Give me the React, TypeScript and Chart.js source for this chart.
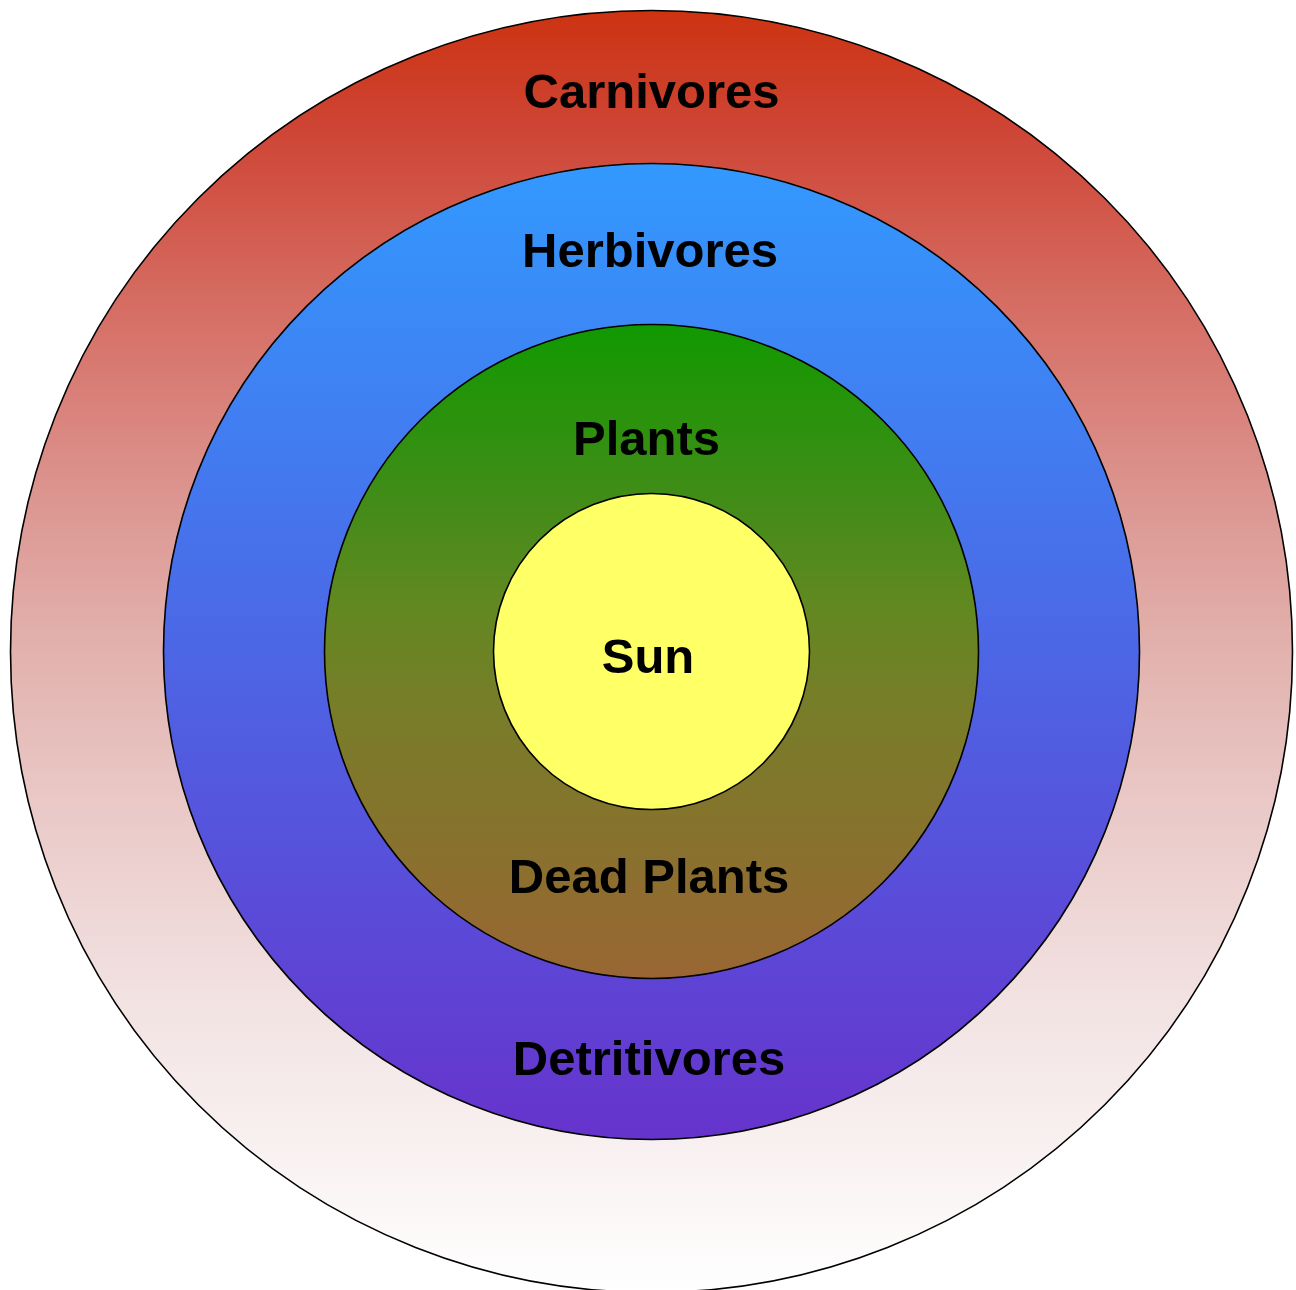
import React, { useEffect, useRef } from 'react';
import { Chart, registerables } from 'chart.js';

Chart.register(...registerables);

// Rings, outermost first
const rings = ['Carnivores', 'Herbivores', 'Plants', 'Sun'];
const ringValues = [1, 1, 1, 1];
const ringWeights = [153, 161, 169, 158];

// Text labels and the ring each belongs to
const labelTexts = ['Carnivores', 'Herbivores', 'Plants', 'Sun', 'Dead Plants', 'Detritivores'];
const labelRings = [0, 1, 2, 3, 2, 1];

// Styling (vertical gradients per ring)
const gradientStops: [number, string][][] = [
  [
    [0, 'rgb(204,51,17)'],
    [0.09, 'rgb(206,68,52)'],
    [0.226, 'rgb(213,108,98)'],
    [0.382, 'rgb(220,150,145)'],
    [0.5, 'rgb(226,178,174)'],
    [0.616, 'rgb(233,200,198)'],
    [0.772, 'rgb(242,226,226)'],
    [1, 'rgb(255,255,255)'],
  ],
  [
    [0, '#3399FF'],
    [1, '#6633CC'],
  ],
  [
    [0, 'rgb(17,153,0)'],
    [0.27, 'rgb(66,140,24)'],
    [0.42, 'rgb(96,137,32)'],
    [0.57, 'rgb(118,126,40)'],
    [1, 'rgb(153,102,51)'],
  ],
  [
    [0, '#FFFF66'],
    [1, '#FFFF66'],
  ],
];
// label offsets from the chart centre (dx, baseline dy)
const labelOffsets: [number, number][] = [
  [0, -543.5],
  [-1.5, -385],
  [-5, -196.5],
  [-3.5, 21.5],
  [-2.5, 241.5],
  [-2.5, 423.5],
];

function ringGradient(context: any, i: number) {
  const chart = context.chart;
  const area = chart.chartArea;
  const stops = gradientStops[i];
  if (!area) return stops[0][1];
  const cx = (area.left + area.right) / 2;
  const cy = (area.top + area.bottom) / 2;
  const R = Math.min(area.right - area.left, area.bottom - area.top) / 2;
  const total = ringWeights.reduce((a, b) => a + b, 0);
  let before = 0;
  for (let k = 0; k < i; k++) before += ringWeights[k];
  const outer = R - (R * before) / total;
  const g = chart.ctx.createLinearGradient(cx, cy - outer, cx, cy + outer);
  stops.forEach(([o, c]) => g.addColorStop(o, c));
  return g;
}

const outlinePlugin = {
  id: 'ringOutlines',
  afterDatasetsDraw(chart: any) {
    const ctx = chart.ctx;
    ctx.save();
    ctx.strokeStyle = '#000';
    ctx.lineWidth = 1.6;
    chart.getSortedVisibleDatasetMetas().forEach((meta: any) => {
      const el = meta.data[0];
      if (!el) return;
      ctx.beginPath();
      ctx.arc(el.x, el.y, el.outerRadius, 0, Math.PI * 2);
      ctx.stroke();
    });
    ctx.restore();
  },
};

const labelPlugin = {
  id: 'ringLabels',
  afterDraw(chart: any) {
    const ctx = chart.ctx;
    ctx.save();
    ctx.font = 'bold 49px "Liberation Sans", Arial, sans-serif';
    ctx.textAlign = 'center';
    ctx.textBaseline = 'alphabetic';
    ctx.fillStyle = '#000';
    labelTexts.forEach((t, j) => {
      const meta = chart.getDatasetMeta(labelRings[j]);
      const el = meta.data[0];
      if (!el) return;
      const [dx, dy] = labelOffsets[j];
      ctx.fillText(t, el.x + dx, el.y + dy);
    });
    ctx.restore();
  },
};

export default function App() {
  const ref = useRef<HTMLCanvasElement>(null);
  useEffect(() => {
    document.body.style.margin = '0';
    const canvas = ref.current;
    if (!canvas) return;
    const chart = new Chart(canvas, {
      type: 'doughnut',
      data: {
        labels: ['ring'],
        datasets: rings.map((name, i) => ({
          label: name,
          data: [ringValues[i]],
          weight: ringWeights[i],
          borderWidth: 0,
          backgroundColor: (ctx: any) => ringGradient(ctx, i),
        })),
      },
      options: {
        responsive: false,
        animation: false,
        events: [],
        cutout: 0,
        layout: { padding: { left: 10.5, top: 10.5, right: 3.5, bottom: 7.5 } },
        plugins: {
          legend: { display: false },
          tooltip: { enabled: false },
        },
      } as any,
      plugins: [outlinePlugin, labelPlugin],
    });
    return () => chart.destroy();
  }, []);
  return (
    <div style={{ width: 1296, height: 1290, overflow: 'hidden', background: '#fff' }}>
      <canvas ref={ref} width={1296} height={1300} style={{ display: 'block' }} />
    </div>
  );
}
